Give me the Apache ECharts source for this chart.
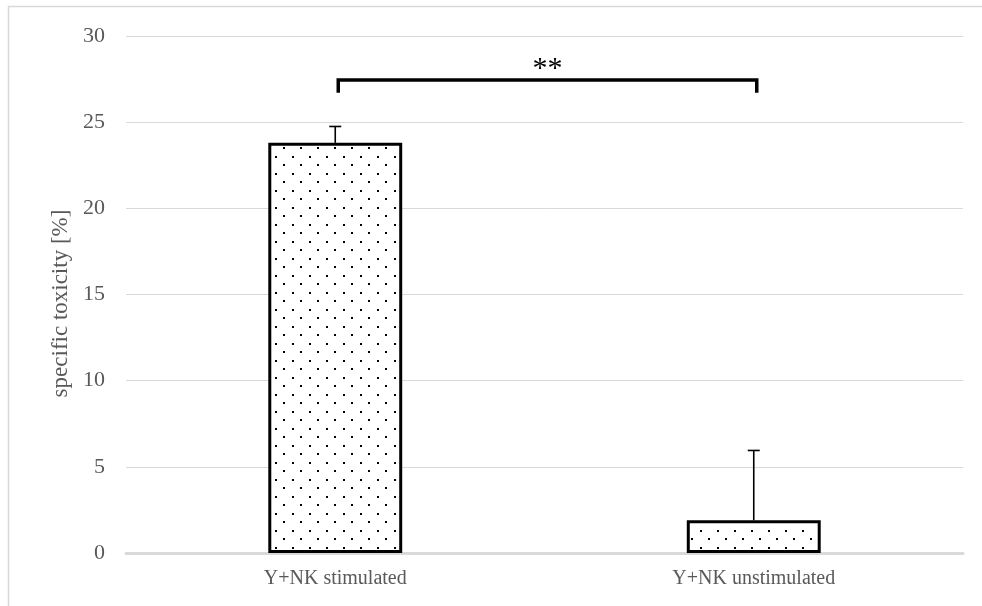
<!DOCTYPE html>
<html>
<head>
<meta charset="utf-8">
<script src="https://cdn.jsdelivr.net/npm/echarts@6/dist/echarts.min.js"></script>
<style>
html,body{margin:0;padding:0;background:#fff;}
#chart{width:982px;height:606px;}
</style>
</head>
<body>
<div id="chart"></div>
<script>
// ---- data ----
const categories = ['Y+NK stimulated', 'Y+NK unstimulated'];
const values = [23.8, 1.9];
const errors = [0.95, 4.05];
const yMin = 0, yMax = 30, yStep = 5;
const sigPair = [0, 1];
const sigLevel = 27.45;
const sigTick = 26.7;
const sigLabel = '**';
const yAxisName = 'specific toxicity [%]';

// ---- dotted pattern ----
const tile = document.createElement('canvas');
tile.width = 17; tile.height = 17;
const tc = tile.getContext('2d');
tc.fillStyle = '#ffffff';
tc.fillRect(0, 0, 17, 17);
tc.fillStyle = '#000000';
tc.fillRect(3, 3, 2, 2);
tc.fillRect(11, 11, 2, 2);

const FONT = '"Liberation Serif", "Times New Roman", serif';
const TXT = '#595959';

const chart = echarts.init(document.getElementById('chart'), null, {renderer: 'canvas'});

const errData = categories.map((c, i) => [i, values[i], errors[i]]);

chart.setOption({
  animation: false,
  backgroundColor: '#ffffff',
  grid: {left: 126, right: 19, top: 36, bottom: 53},
  graphic: [{
    type: 'rect',
    shape: {x: 8.5, y: 6.5, width: 1200, height: 800},
    style: {fill: 'none', stroke: '#d9d9d9', lineWidth: 1.5},
    z: -10
  }],
  xAxis: {
    type: 'category',
    data: categories,
    axisLine: {show: true, lineStyle: {color: '#d9d9d9', width: 3}},
    axisTick: {show: false},
    axisLabel: {color: TXT, fontFamily: FONT, fontSize: 20, margin: 16}
  },
  yAxis: {
    type: 'value',
    min: yMin, max: yMax, interval: yStep,
    name: yAxisName,
    nameLocation: 'middle',
    nameGap: 53,
    nameTextStyle: {color: TXT, fontFamily: FONT, fontSize: 23, padding: [0, 18, 0, 0]},
    axisLine: {show: false},
    axisTick: {show: false},
    axisLabel: {color: TXT, fontFamily: FONT, fontSize: 22, margin: 21},
    splitLine: {lineStyle: {color: '#d9d9d9', width: 1}}
  },
  series: [
    {
      type: 'bar',
      data: values,
      barWidth: '32%',
      itemStyle: {
        color: {image: tile, repeat: 'repeat'},
        borderColor: '#000000',
        borderWidth: 3
      },
      z: 2
    },
    {
      type: 'custom',
      data: errData,
      z: 3,
      renderItem: function (params, api) {
        const x = api.value(0), v = api.value(1), e = api.value(2);
        const p0 = api.coord([x, v]);
        const p1 = api.coord([x, v + e]);
        const style = {stroke: '#000', lineWidth: 1.6, fill: 'none'};
        return {
          type: 'group',
          children: [
            {type: 'line', shape: {x1: p0[0], y1: p0[1], x2: p1[0], y2: p1[1]}, style: style},
            {type: 'line', shape: {x1: p1[0] - 6, y1: p1[1], x2: p1[0] + 6, y2: p1[1]}, style: style}
          ]
        };
      }
    },
    {
      type: 'custom',
      data: [[sigPair[0], sigPair[1], sigLevel, sigTick]],
      z: 4,
      renderItem: function (params, api) {
        const a = api.value(0), b = api.value(1), lv = api.value(2), tk = api.value(3);
        const pa0 = api.coord([a, tk]), pa1 = api.coord([a, lv]);
        const pb1 = api.coord([b, lv]), pb0 = api.coord([b, tk]);
        const off = 3;
        return {
          type: 'group',
          children: [
            {
              type: 'polyline',
              shape: {points: [[pa0[0] + off, pa0[1]], [pa1[0] + off, pa1[1]], [pb1[0] + off, pb1[1]], [pb0[0] + off, pb0[1]]]},
              style: {stroke: '#000', lineWidth: 3.5, fill: 'none', lineJoin: 'miter', lineCap: 'butt'}
            },
            {
              type: 'text',
              style: {
                text: sigLabel,
                x: (pa1[0] + pb1[0]) / 2 + off,
                y: pa1[1] + 4,
                align: 'center',
                verticalAlign: 'bottom',
                fill: '#000',
                font: '30px ' + FONT
              }
            }
          ]
        };
      }
    }
  ]
});
</script>
</body>
</html>
